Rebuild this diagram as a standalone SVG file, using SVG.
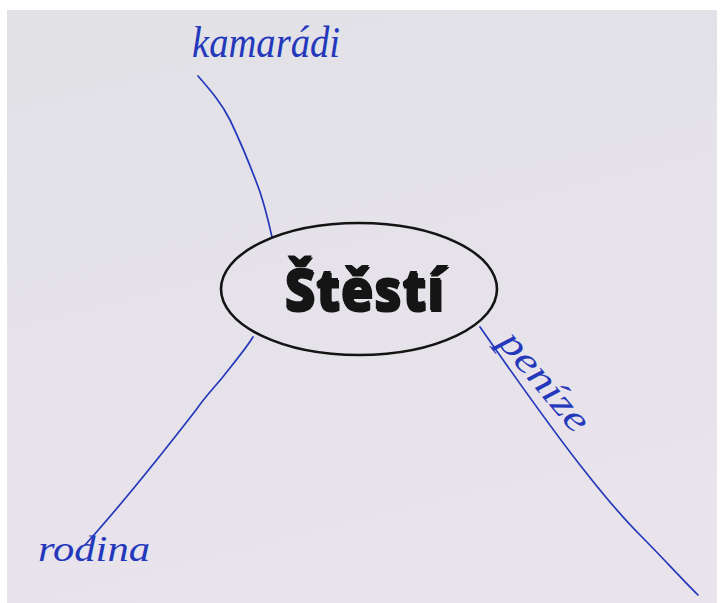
<svg xmlns="http://www.w3.org/2000/svg" width="720" height="603" viewBox="0 0 720 603">
  <defs>
    <linearGradient id="paper" x1="0" y1="0" x2="0.3" y2="1">
      <stop offset="0" stop-color="#e1e1e6"/>
      <stop offset="1" stop-color="#e9e3ec"/>
    </linearGradient>
    <style>
      .ink { fill: none; stroke: #2438bb; stroke-width: 1.7; stroke-linecap: round; stroke-linejoin: round; }
      .hand { font-family: "Liberation Serif", "DejaVu Serif", serif; font-style: italic; fill: #2438bb; }
      .title { font-family: "Open Sans", "Noto Sans", sans-serif; font-weight: 800; fill: #151515; }
    </style>
  </defs>
  <rect x="0" y="0" width="720" height="603" fill="#ffffff"/>
  <rect x="7" y="10" width="710" height="593" fill="url(#paper)"/>

  <g id="connectors">
    <path class="ink" d="M198,76 C212,92 222,104 230,120 C242,145 252,170 260,192 C266,210 269,224 272,237"/>
    <path class="ink" d="M253,337 C245,350 232,365 222,378 C212,390 205,397 196,410 C165,450 130,495 85,545" stroke-width="1.3"/>
    <path class="ink" d="M480,327 C510,370 545,420 580,465 C600,490 615,510 640,535 C660,555 680,577 698,595"/>
  </g>

  <g id="center">
    <ellipse cx="359" cy="289" rx="138" ry="66" fill="none" stroke="#141414" stroke-width="2.6"/>
    <text class="title" x="364" y="310" font-size="58" text-anchor="middle" fill="#777" textLength="160" lengthAdjust="spacingAndGlyphs" transform="translate(1,1.5)">Štěstí</text>
    <text class="title" x="364" y="310" font-size="58" text-anchor="middle" textLength="160" lengthAdjust="spacingAndGlyphs">Štěstí</text>
  </g>

  <g id="kamaradi">
    <text class="hand" x="192" y="57" font-size="44" textLength="148" lengthAdjust="spacingAndGlyphs">kamarádi</text>
  </g>

  <g id="penize">
    <text class="hand" font-size="38" textLength="120" lengthAdjust="spacingAndGlyphs" transform="translate(497,343) rotate(50)">peníze</text>
  </g>

  <g id="rodina">
    <text class="hand" x="38" y="561" font-size="36" textLength="112" lengthAdjust="spacingAndGlyphs">rodina</text>
  </g>
</svg>
